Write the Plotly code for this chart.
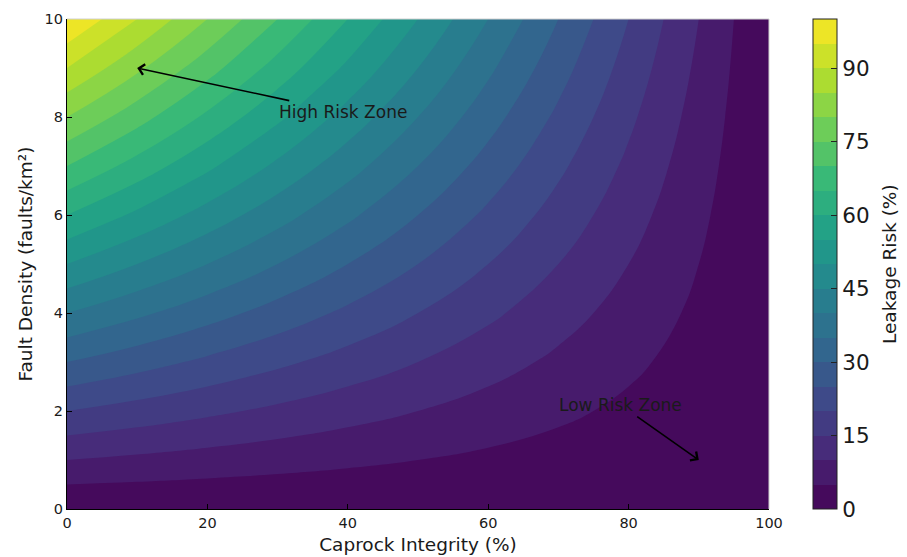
import plotly.graph_objects as go
from plotly.colors import sample_colorscale

# Data
caprock_integrity = [0, 10, 20, 30, 40, 50, 60, 70, 80, 90, 100]   # x (%)
fault_density = [0, 1, 2, 3, 4, 5, 6, 7, 8, 9, 10]                 # y (faults/km²)
leakage_risk = [                                                    # z (%), rows = fault density
    [0, 0, 0, 0, 0, 0, 0, 0, 0, 0, 0],
    [10, 9, 8, 7, 6, 5, 4, 3, 2, 1, 0],
    [20, 18, 16, 14, 12, 10, 8, 6, 4, 2, 0],
    [30, 27, 24, 21, 18, 15, 12, 9, 6, 3, 0],
    [40, 36, 32, 28, 24, 20, 16, 12, 8, 4, 0],
    [50, 45, 40, 35, 30, 25, 20, 15, 10, 5, 0],
    [60, 54, 48, 42, 36, 30, 24, 18, 12, 6, 0],
    [70, 63, 56, 49, 42, 35, 28, 21, 14, 7, 0],
    [80, 72, 64, 56, 48, 40, 32, 24, 16, 8, 0],
    [90, 81, 72, 63, 54, 45, 36, 27, 18, 9, 0],
    [100, 90, 80, 70, 60, 50, 40, 30, 20, 10, 0],
]
colorbar_ticks = [0, 15, 30, 45, 60, 75, 90]
risk_range = [0, 100]

# 20 bands of 5 (0..100); band colours = viridis at band midpoints
n_bands = 20
band_colors = sample_colorscale("Viridis", [(k + 0.5) / n_bands for k in range(n_bands)])
# contour fill scale (plotly samples at band midpoints -> k/(n-1))
contour_scale = [[k / (n_bands - 1), c] for k, c in enumerate(band_colors)]
# stepped scale for the colour bar
step_scale = []
for k, c in enumerate(band_colors):
    step_scale.append([k / n_bands, c])
    step_scale.append([(k + 1) / n_bands, c])

txt = "#1a1a1a"
fig = go.Figure()
fig.add_trace(go.Contour(
    x=caprock_integrity, y=fault_density, z=leakage_risk,
    colorscale=contour_scale, showscale=False,
    contours=dict(start=5, end=95, size=5, coloring="fill"),
    line=dict(width=0, smoothing=1.3),
    hoverinfo="skip",
))

# colour bar carrier (no visible marks)
fig.add_trace(go.Scatter(
    x=[None], y=[None], mode="markers", hoverinfo="skip",
    marker=dict(color=[risk_range[0]], cmin=risk_range[0], cmax=risk_range[1],
                colorscale=step_scale, showscale=True,
                colorbar=dict(
                    x=(813 - 67) / 702, xanchor="left", xpad=0,
                    y=0.5, yanchor="middle", len=1, ypad=0,
                    thickness=24, outlinewidth=1, outlinecolor="#222",
                    ticks="inside", ticklen=6, tickcolor="#222",
                    tickvals=colorbar_ticks,
                    tickfont=dict(family="DejaVu Sans", size=21.5, color=txt),
                )),
))

fig.add_annotation(xref="paper", yref="paper", x=(889 - 67) / 702, y=0.5,
                   text="Leakage Risk (%)", textangle=-90, showarrow=False,
                   xanchor="center", yanchor="middle",
                   font=dict(family="DejaVu Sans", size=18.5, color=txt))

fig.add_annotation(x=10, y=9, ax=39.3, ay=8.1, axref="x", ayref="y",
                   text="High Risk Zone", showarrow=True, arrowhead=4,
                   arrowsize=1.3, arrowwidth=1.6, arrowcolor="black",
                   font=dict(family="DejaVu Sans", size=17, color=txt))
fig.add_annotation(x=90, y=1, ax=78.9, ay=2.12, axref="x", ayref="y",
                   text="Low Risk Zone", showarrow=True, arrowhead=4,
                   arrowsize=1.3, arrowwidth=1.6, arrowcolor="black",
                   font=dict(family="DejaVu Sans", size=17, color=txt))

axis_common = dict(ticks="inside", ticklen=5, tickcolor="black", tickwidth=1,
                   showline=True, linecolor="black", linewidth=1.2,
                   showgrid=False, zeroline=False,
                   tickfont=dict(family="DejaVu Sans", size=14.5, color=txt))
fig.update_xaxes(range=[0, 100], dtick=20, tick0=0,
                 title=dict(text="Caprock Integrity (%)", standoff=8,
                            font=dict(family="DejaVu Sans", size=18.5, color=txt)),
                 **axis_common)
fig.update_yaxes(range=[0, 10], dtick=2, tick0=0,
                 title=dict(text="Fault Density (faults/km²)", standoff=7,
                            font=dict(family="DejaVu Sans", size=18.5, color=txt)),
                 **axis_common)

fig.add_shape(type="line", xref="paper", yref="paper", x0=0, x1=1, y0=1, y1=1,
              line=dict(color="#d0d0d0", width=1))
fig.add_shape(type="line", xref="paper", yref="paper", x0=1, x1=1, y0=0, y1=1,
              line=dict(color="#d0d0d0", width=1))

fig.update_layout(width=907, height=557,
                  margin=dict(l=67, r=138, t=19, b=48, autoexpand=False),
                  paper_bgcolor="white", plot_bgcolor="white",
                  showlegend=False)

fig.write_html("out.html")
